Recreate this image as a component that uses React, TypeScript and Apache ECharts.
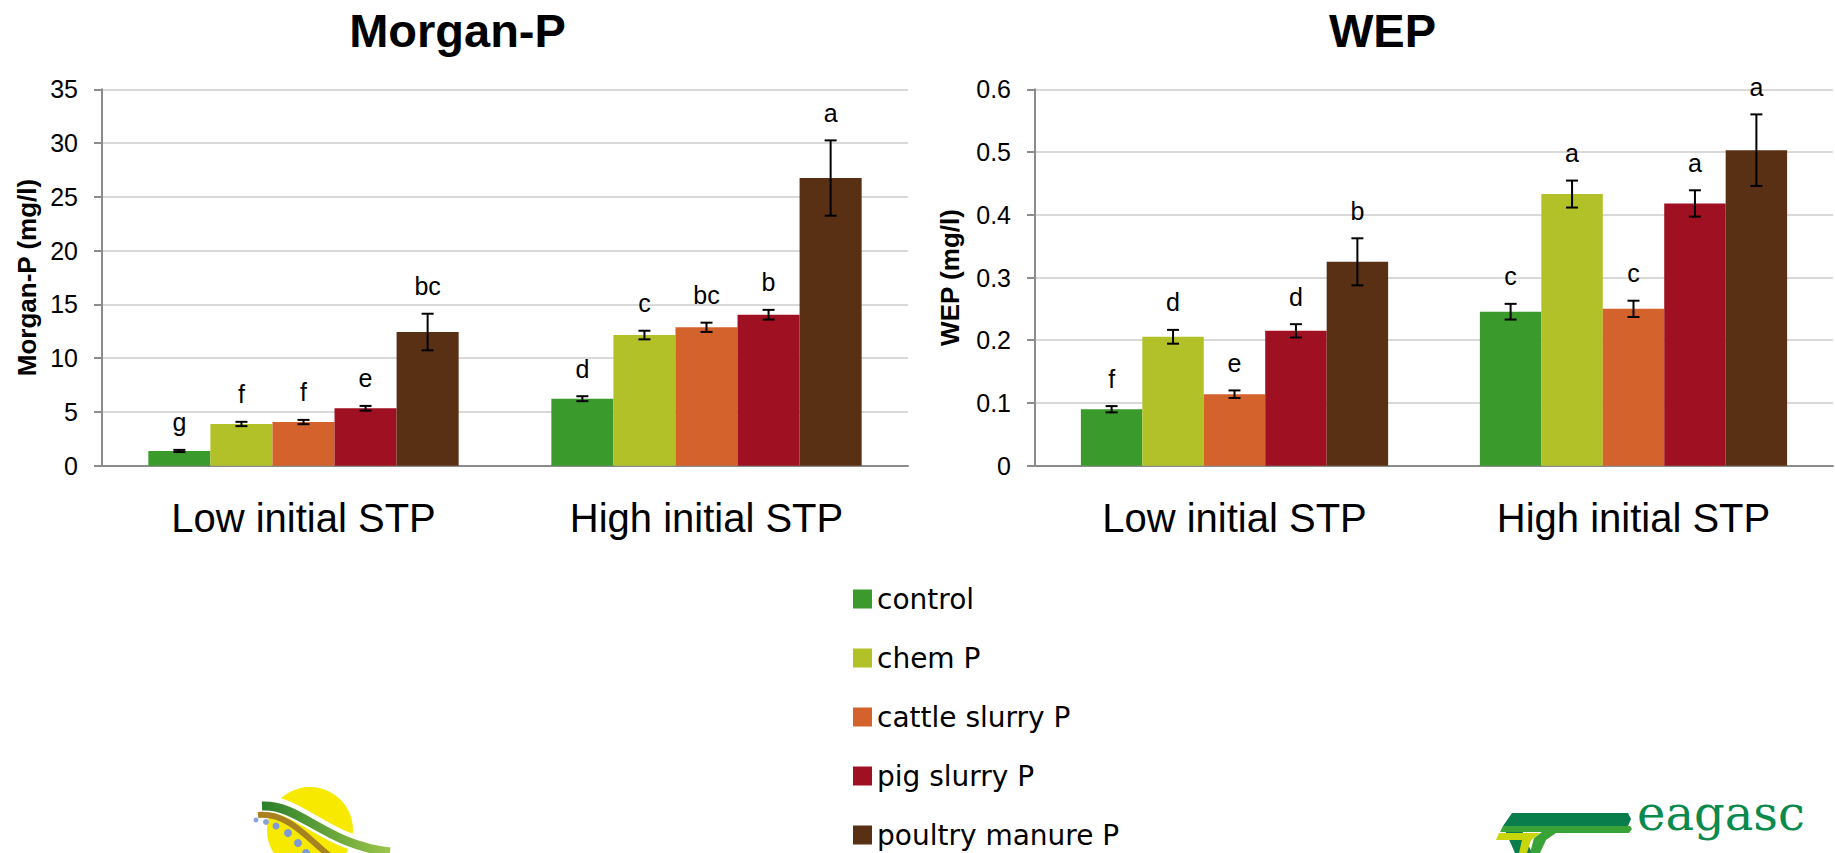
import React, { useEffect, useRef } from "react";
import * as echarts from "echarts";

const categories = ["Low initial STP", "High initial STP"];
const treatments = ["control", "chem P", "cattle slurry P", "pig slurry P", "poultry manure P"];
const colors = ["#3a9a2c", "#b2c127", "#d3622d", "#9e1022", "#5a3014"];

// values per treatment: [low, high]
const morganValues = [[1.37, 6.23], [3.88, 12.15], [4.06, 12.87], [5.34, 14.04], [12.43, 26.75]];
const morganErrors = [[0.1, 0.23], [0.2, 0.4], [0.2, 0.43], [0.22, 0.45], [1.7, 3.5]];
const morganLetters = [["g", "d"], ["f", "c"], ["f", "bc"], ["e", "b"], ["bc", "a"]];

const wepValues = [[0.09, 0.2455], [0.2055, 0.433], [0.114, 0.25], [0.215, 0.418], [0.325, 0.503]];
const wepErrors = [[0.005, 0.0125], [0.011, 0.0215], [0.006, 0.013], [0.0106, 0.021], [0.0375, 0.057]];
const wepLetters = [["f", "c"], ["d", "a"], ["e", "c"], ["d", "a"], ["b", "a"]];

const chartTitles = ["Morgan-P", "WEP"];
const axisNames = ["Morgan-P (mg/l)", "WEP (mg/l)"];

const FONT = '"Liberation Sans", Arial, sans-serif';
const GAP = 0.23;

function errorSeries(values: number[][], errors: number[][], letters: string[][], idx: number) {
  const data: number[][] = [];
  const labs: string[] = [];
  values.forEach((arr, s) => {
    arr.forEach((v, c) => {
      data.push([c, v, errors[s][c], s]);
      labs.push(letters[s][c]);
    });
  });
  return {
    type: "custom",
    xAxisIndex: idx,
    yAxisIndex: idx,
    encode: { x: 0, y: 1 },
    data,
    z: 5,
    renderItem: (params: any, api: any) => {
      const cat = api.value(0);
      const v = api.value(1);
      const e = api.value(2);
      const s = api.value(3);
      const center = api.coord([cat, v]);
      const catW = api.size([1, 0])[0];
      const bw = (catW * (1 - GAP)) / treatments.length;
      const x = center[0] + (s - (treatments.length - 1) / 2) * bw;
      const top = api.coord([cat, v + e])[1];
      const bot = api.coord([cat, v - e])[1];
      const cap = 6;
      const ls = { stroke: "#000", lineWidth: 2 };
      return {
        type: "group",
        children: [
          { type: "line", shape: { x1: x, y1: top, x2: x, y2: bot }, style: ls },
          { type: "line", shape: { x1: x - cap, y1: top, x2: x + cap, y2: top }, style: ls },
          { type: "line", shape: { x1: x - cap, y1: bot, x2: x + cap, y2: bot }, style: ls },
          {
            type: "text",
            x,
            y: top - 15,
            style: {
              text: labs[params.dataIndex],
              fill: "#000",
              font: `25px ${FONT}`,
              align: "center",
              verticalAlign: "bottom",
              textAlign: "center",
              textVerticalAlign: "bottom",
            },
          },
        ],
      };
    },
  };
}

export default function App() {
  const ref = useRef<HTMLDivElement>(null);
  useEffect(() => {
    if (!ref.current) return;
    const chart = echarts.init(ref.current, null, { renderer: "svg" });
    const grids = [
      { left: 102, top: 89.3, width: 806, height: 376.4 },
      { left: 1035, top: 89.3, width: 798, height: 376.4 },
    ];
    const yMax = [35, 0.6];
    const yInt = [5, 0.1];
    const nameGaps = [62, 72];
    const xAxis = grids.map((_, i) => ({
      type: "category",
      gridIndex: i,
      data: categories,
      axisLine: { lineStyle: { color: "#8c8c8c", width: 2 } },
      axisTick: { show: false },
      axisLabel: { color: "#000", fontSize: 40, fontFamily: FONT, margin: 32 },
    }));
    const yAxis = grids.map((_, i) => ({
      type: "value",
      gridIndex: i,
      min: 0,
      max: yMax[i],
      interval: yInt[i],
      name: axisNames[i],
      nameLocation: "middle",
      nameGap: nameGaps[i],
      nameTextStyle: { color: "#000", fontSize: 26, fontWeight: "bold", fontFamily: FONT },
      axisLine: { show: true, lineStyle: { color: "#8c8c8c", width: 2 } },
      axisTick: { show: true, length: 8, lineStyle: { color: "#8c8c8c", width: 2 } },
      axisLabel: { color: "#000", fontSize: 25, fontFamily: FONT, margin: 24 },
      splitLine: { lineStyle: { color: "#d9d9d9", width: 2 } },
    }));
    const barSeries: any[] = [];
    [morganValues, wepValues].forEach((vals, gi) => {
      treatments.forEach((t, s) => {
        barSeries.push({
          type: "bar",
          name: t,
          xAxisIndex: gi,
          yAxisIndex: gi,
          data: vals[s],
          barGap: "0%",
          barCategoryGap: `${GAP * 100}%`,
          itemStyle: { color: colors[s] },
        });
      });
    });
    const series = [
      ...barSeries,
      errorSeries(morganValues, morganErrors, morganLetters, 0),
      errorSeries(wepValues, wepErrors, wepLetters, 1),
    ];
    const graphic: any[] = [
      {
        type: "text",
        x: 457.5,
        y: 30,
        style: { text: chartTitles[0], fill: "#000", font: `bold 47px ${FONT}`, align: "center", verticalAlign: "middle" },
      },
      {
        type: "text",
        x: 1382.5,
        y: 30,
        style: { text: chartTitles[1], fill: "#000", font: `bold 47px ${FONT}`, align: "center", verticalAlign: "middle" },
      },
      // left logo (approximation)
      { type: "circle", shape: { cx: 310, cy: 830, r: 43 }, style: { fill: "#f7ea00" } },
      {
        type: "bezierCurve",
        shape: { x1: 262, y1: 804, cpx1: 300, cpy1: 802, cpx2: 325, cpy2: 845, x2: 390, y2: 850 },
        style: { stroke: "#ffffff", lineWidth: 16, fill: "none" },
      },
      {
        type: "bezierCurve",
        shape: { x1: 262, y1: 806, cpx1: 300, cpy1: 804, cpx2: 325, cpy2: 845, x2: 390, y2: 852 },
        style: {
          stroke: new echarts.graphic.LinearGradient(0, 0, 1, 0, [
            { offset: 0, color: "#2a7f2a" },
            { offset: 1, color: "#9cc54a" },
          ]),
          lineWidth: 9,
          fill: "none",
        },
      },
      {
        type: "bezierCurve",
        shape: { x1: 258, y1: 815, cpx1: 290, cpy1: 812, cpx2: 310, cpy2: 842, x2: 335, y2: 860 },
        style: { stroke: "#a8821e", lineWidth: 6, fill: "none" },
      },
      { type: "circle", shape: { cx: 256, cy: 820, r: 2.5 }, style: { fill: "#8aa3dc" } },
      { type: "circle", shape: { cx: 266, cy: 822, r: 3 }, style: { fill: "#8aa3dc" } },
      { type: "circle", shape: { cx: 276, cy: 826, r: 3.5 }, style: { fill: "#7f98d6" } },
      { type: "circle", shape: { cx: 288, cy: 833, r: 4 }, style: { fill: "#7f98d6" } },
      { type: "circle", shape: { cx: 298, cy: 843, r: 4 }, style: { fill: "#7f98d6" } },
      { type: "circle", shape: { cx: 306, cy: 853, r: 4 }, style: { fill: "#7f98d6" } },
      // right logo (approximation)
      {
        type: "polygon",
        shape: { points: [[1512, 813], [1628, 813], [1631, 819], [1628, 826], [1520, 826], [1532, 853], [1515, 853], [1503, 826]] },
        style: { fill: "#0a7d4c" },
      },
      {
        type: "polygon",
        shape: { points: [[1503, 826], [1630, 826], [1632, 829], [1629, 833], [1556, 833], [1546, 840], [1540, 853], [1530, 853], [1534, 838], [1542, 832], [1500, 832]] },
        style: { fill: "#3aa338" },
      },
      {
        type: "polygon",
        shape: { points: [[1499, 833], [1540, 833], [1531, 840], [1527, 853], [1519, 853], [1522, 840], [1496, 840]] },
        style: { fill: "#c9d60c" },
      },
      {
        type: "text",
        x: 1637,
        y: 837,
        style: { text: "eagasc", fill: "#0a8a4c", font: `48px "DejaVu Serif", serif`, align: "left", verticalAlign: "bottom" },
      },
    ];
    chart.setOption({
      animation: false,
      backgroundColor: "#ffffff",
      grid: grids,
      xAxis,
      yAxis,
      legend: {
        show: true,
        orient: "vertical",
        left: 853,
        top: 585,
        width: 400,
        height: 400,
        padding: 0,
        itemWidth: 19,
        itemHeight: 19,
        itemGap: 31,
        icon: "rect",
        data: treatments,
        textStyle: { color: "#000", fontSize: 28, fontFamily: '"DejaVu Sans", sans-serif' },
      },
      series,
      graphic,
    });
    return () => chart.dispose();
  }, []);
  return (
    <div
      ref={ref}
      style={{ position: "fixed", left: 0, top: 0, width: 1835, height: 853, background: "#fff" }}
    />
  );
}
